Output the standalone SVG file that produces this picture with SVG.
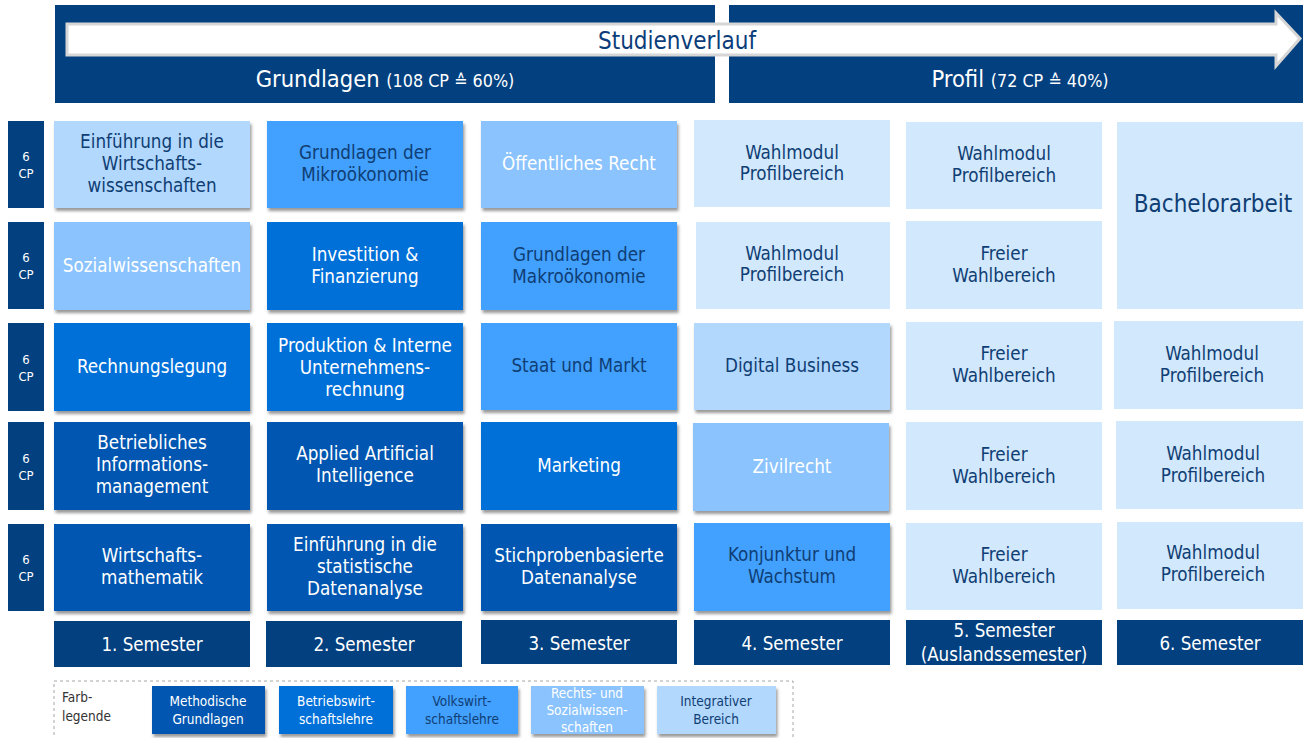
<svg xmlns="http://www.w3.org/2000/svg" width="1303" height="738" viewBox="0 0 1303 738">
<defs>
<filter id="sh" x="-5%" y="-5%" width="115%" height="120%">
<feDropShadow dx="1.5" dy="3" stdDeviation="1.5" flood-color="#000" flood-opacity="0.4"/>
</filter>
<style>
text{font-family:'DejaVu Sans Condensed','DejaVu Sans',sans-serif;font-stretch:condensed;text-anchor:middle}
.navy{fill:#02407F}
.m{fill:#0057B0}
.b{fill:#0070D9}
.v{fill:#42A0FF}
.r{fill:#8AC3FD}
.i{fill:#B3D8FD}
.p{fill:#D2E8FC}
.sh{filter:url(#sh)}
.t{font-size:18.7px}
.w{fill:#FFFFFF}
.d{fill:#0F3E74}
.cp{font-size:13px;fill:#FFFFFF}
.sem{font-size:18.6px;fill:#FFFFFF}
.lg{font-size:13.5px}
</style>
</defs>
<rect width="1303" height="738" fill="#FFFFFF"/>
<g id="header">
<rect x="55" y="5" width="660" height="98" class="navy"/>
<rect x="729" y="5" width="574" height="98" class="navy"/>
<polygon points="67,24 1276,24 1276,13 1300,38.5 1276,66 1276,55 67,55" fill="#FFFFFF" stroke="#D6D6D6" stroke-width="3"/>
<text x="677" y="49" style="font-size:24px;fill:#0B3D7A">Studienverlauf</text>
<text x="385" y="87" class="w" style="font-size:23.5px">Grundlagen <tspan style="font-size:17.8px">(108 CP ≙ 60%)</tspan></text>
<text x="1020" y="87" class="w" style="font-size:23.5px">Profil <tspan style="font-size:17.8px">(72 CP ≙ 40%)</tspan></text>
</g>
<g id="cp-labels">
<rect x="8" y="121" width="36" height="87" class="navy"/>
<text x="26" y="161" class="cp">6</text><text x="26" y="178" class="cp">CP</text>
<rect x="8" y="222" width="36" height="87" class="navy"/>
<text x="26" y="262" class="cp">6</text><text x="26" y="279" class="cp">CP</text>
<rect x="8" y="323" width="36" height="88" class="navy"/>
<text x="26" y="364" class="cp">6</text><text x="26" y="381" class="cp">CP</text>
<rect x="8" y="422" width="36" height="88" class="navy"/>
<text x="26" y="463" class="cp">6</text><text x="26" y="480" class="cp">CP</text>
<rect x="8" y="524" width="36" height="87" class="navy"/>
<text x="26" y="564" class="cp">6</text><text x="26" y="581" class="cp">CP</text>
</g>
<g id="col1">
<g id="einf-wiwi"><rect x="54" y="121" width="196" height="87" class="i sh"/>
<text x="152" y="148" class="t d">Einführung in die</text><text x="152" y="170" class="t d">Wirtschafts-</text><text x="152" y="192" class="t d">wissenschaften</text></g>
<g id="sozial"><rect x="54" y="222" width="196" height="88" class="r sh"/>
<text x="152" y="272" class="t w">Sozialwissenschaften</text></g>
<g id="rechnungslegung"><rect x="54" y="323" width="196" height="88" class="b sh"/>
<text x="152" y="373" class="t w">Rechnungslegung</text></g>
<g id="bim"><rect x="54" y="422" width="196" height="88" class="m sh"/>
<text x="152" y="449" class="t w">Betriebliches</text><text x="152" y="471" class="t w">Informations-</text><text x="152" y="493" class="t w">management</text></g>
<g id="wimathe"><rect x="54" y="524" width="196" height="87" class="m sh"/>
<text x="152" y="562" class="t w">Wirtschafts-</text><text x="152" y="584" class="t w">mathematik</text></g>
<g id="sem1"><rect x="54" y="621" width="196" height="46" class="navy"/>
<text x="152" y="651" class="sem">1. Semester</text></g>
</g>
<g id="col2">
<g id="mikro"><rect x="267" y="121" width="196" height="87" class="v sh"/>
<text x="365" y="159" class="t d">Grundlagen der</text><text x="365" y="181" class="t d">Mikroökonomie</text></g>
<g id="invest"><rect x="267" y="222" width="196" height="88" class="b sh"/>
<text x="365" y="261" class="t w">Investition &amp;</text><text x="365" y="283" class="t w">Finanzierung</text></g>
<g id="produktion"><rect x="267" y="323" width="196" height="88" class="b sh"/>
<text x="365" y="352" class="t w">Produktion &amp; Interne</text><text x="365" y="374" class="t w">Unternehmens-</text><text x="365" y="396" class="t w">rechnung</text></g>
<g id="aai"><rect x="267" y="422" width="196" height="88" class="m sh"/>
<text x="365" y="460" class="t w">Applied Artificial</text><text x="365" y="482" class="t w">Intelligence</text></g>
<g id="statistik"><rect x="267" y="524" width="196" height="87" class="m sh"/>
<text x="365" y="551" class="t w">Einführung in die</text><text x="365" y="573" class="t w">statistische</text><text x="365" y="595" class="t w">Datenanalyse</text></g>
<g id="sem2"><rect x="266" y="621" width="196" height="46" class="navy"/>
<text x="364" y="651" class="sem">2. Semester</text></g>
</g>
<g id="col3">
<g id="oeffrecht"><rect x="481" y="121" width="196" height="87" class="r sh"/>
<text x="579" y="170" class="t w">Öffentliches Recht</text></g>
<g id="makro"><rect x="481" y="222" width="196" height="88" class="v sh"/>
<text x="579" y="261" class="t d">Grundlagen der</text><text x="579" y="283" class="t d">Makroökonomie</text></g>
<g id="staat"><rect x="481" y="323" width="196" height="87" class="v sh"/>
<text x="579" y="372" class="t d">Staat und Markt</text></g>
<g id="marketing"><rect x="481" y="422" width="196" height="88" class="b sh"/>
<text x="579" y="472" class="t w">Marketing</text></g>
<g id="stichproben"><rect x="481" y="524" width="196" height="87" class="m sh"/>
<text x="579" y="562" class="t w">Stichprobenbasierte</text><text x="579" y="584" class="t w">Datenanalyse</text></g>
<g id="sem3"><rect x="481" y="620" width="196" height="44" class="navy"/>
<text x="579" y="650" class="sem">3. Semester</text></g>
</g>
<g id="col4">
<g id="wm4a"><rect x="694" y="120" width="196" height="87" class="p"/>
<text x="792" y="159" class="t d">Wahlmodul</text><text x="792" y="180" class="t d">Profilbereich</text></g>
<g id="wm4b"><rect x="696" y="222" width="194" height="87" class="p"/>
<text x="792" y="260" class="t d">Wahlmodul</text><text x="792" y="281" class="t d">Profilbereich</text></g>
<g id="digital"><rect x="694" y="323" width="196" height="87" class="i sh"/>
<text x="792" y="372" class="t d">Digital Business</text></g>
<g id="zivil"><rect x="693" y="423" width="196" height="88" class="r sh"/>
<text x="792" y="473" class="t w">Zivilrecht</text></g>
<g id="konjunktur"><rect x="694" y="523" width="196" height="88" class="v sh"/>
<text x="792" y="561" class="t d">Konjunktur und</text><text x="792" y="583" class="t d">Wachstum</text></g>
<g id="sem4"><rect x="694" y="620" width="196" height="45" class="navy"/>
<text x="792" y="650" class="sem">4. Semester</text></g>
</g>
<g id="col5">
<g id="wm5"><rect x="906" y="122" width="196" height="87" class="p"/>
<text x="1004" y="160" class="t d">Wahlmodul</text><text x="1004" y="182" class="t d">Profilbereich</text></g>
<g id="fw5a"><rect x="906" y="221" width="196" height="88" class="p"/>
<text x="1004" y="260" class="t d">Freier</text><text x="1004" y="282" class="t d">Wahlbereich</text></g>
<g id="fw5b"><rect x="906" y="322" width="196" height="88" class="p"/>
<text x="1004" y="360" class="t d">Freier</text><text x="1004" y="382" class="t d">Wahlbereich</text></g>
<g id="fw5c"><rect x="906" y="422" width="196" height="88" class="p"/>
<text x="1004" y="461" class="t d">Freier</text><text x="1004" y="483" class="t d">Wahlbereich</text></g>
<g id="fw5d"><rect x="906" y="523" width="196" height="87" class="p"/>
<text x="1004" y="561" class="t d">Freier</text><text x="1004" y="583" class="t d">Wahlbereich</text></g>
<g id="sem5"><rect x="906" y="620" width="196" height="45" class="navy"/>
<text x="1004" y="637" class="sem">5. Semester</text><text x="1004" y="661" class="sem">(Auslandssemester)</text></g>
</g>
<g id="col6">
<g id="bachelor"><rect x="1117" y="122" width="186" height="187" class="p"/>
<text x="1213" y="212" class="d" style="font-size:24px">Bachelorarbeit</text></g>
<g id="wm6a"><rect x="1114" y="321" width="189" height="88" class="p"/>
<text x="1212" y="360" class="t d">Wahlmodul</text><text x="1212" y="382" class="t d">Profilbereich</text></g>
<g id="wm6b"><rect x="1116" y="421" width="187" height="88" class="p"/>
<text x="1213" y="460" class="t d">Wahlmodul</text><text x="1213" y="482" class="t d">Profilbereich</text></g>
<g id="wm6c"><rect x="1117" y="522" width="186" height="87" class="p"/>
<text x="1213" y="559" class="t d">Wahlmodul</text><text x="1213" y="581" class="t d">Profilbereich</text></g>
<g id="sem6"><rect x="1117" y="620" width="186" height="45" class="navy"/>
<text x="1210" y="650" class="sem">6. Semester</text></g>
</g>
<g id="legend">
<rect x="54" y="681" width="739" height="62" fill="none" stroke="#A6A6A6" stroke-width="1" stroke-dasharray="3,3"/>
<text x="62" y="702" class="lg" style="text-anchor:start;fill:#333">Farb-</text>
<text x="62" y="721" class="lg" style="text-anchor:start;fill:#333">legende</text>
<g id="lg-m"><rect x="152" y="686" width="113" height="48" class="m sh"/>
<text x="208" y="706" class="lg w">Methodische</text><text x="208" y="724" class="lg w">Grundlagen</text></g>
<g id="lg-b"><rect x="279" y="686" width="114" height="48" class="b sh"/>
<text x="336" y="706" class="lg w">Betriebswirt-</text><text x="336" y="724" class="lg w">schaftslehre</text></g>
<g id="lg-v"><rect x="406" y="686" width="112" height="48" class="v sh"/>
<text x="462" y="706" class="lg d">Volkswirt-</text><text x="462" y="724" class="lg d">schaftslehre</text></g>
<g id="lg-r"><rect x="531" y="686" width="113" height="48" class="r sh"/>
<text x="587" y="698" class="lg w">Rechts- und</text><text x="587" y="715" class="lg w">Sozialwissen-</text><text x="587" y="732" class="lg w">schaften</text></g>
<g id="lg-i"><rect x="657" y="686" width="119" height="48" class="i sh"/>
<text x="716" y="706" class="lg d">Integrativer</text><text x="716" y="724" class="lg d">Bereich</text></g>
</g>
</svg>
